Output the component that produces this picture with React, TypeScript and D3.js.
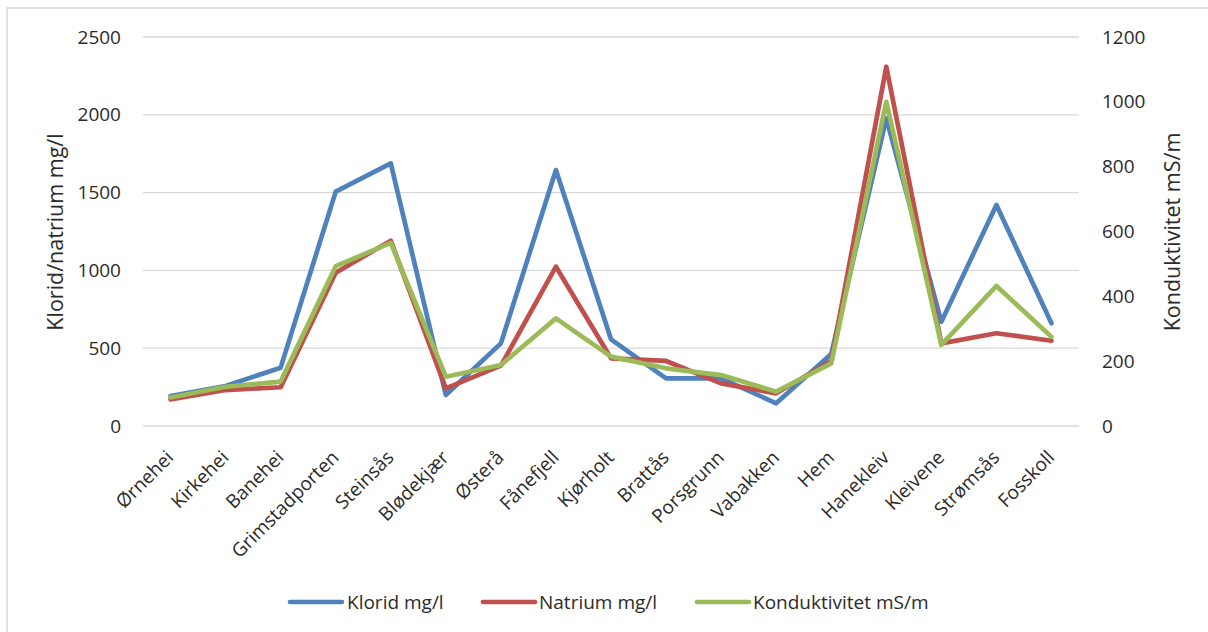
import React from "react";
import * as d3 from "d3";

const categories = ["Ørnehei","Kirkehei","Banehei","Grimstadporten","Steinsås","Blødekjær","Østerå","Fånefjell","Kjørholt","Brattås","Porsgrunn","Vabakken","Hem","Hanekleiv","Kleivene","Strømsås","Fosskoll"];
const klorid = [193, 257, 375, 1506, 1688, 199, 531, 1645, 557, 306, 306, 146, 462, 1977, 670, 1420, 660];
const natrium = [171, 231, 249, 985, 1191, 242, 388, 1024, 435, 418, 274, 210, 418, 2309, 531, 596, 548];
const konduktivitet = [88, 121, 137, 493, 565, 152, 188, 332, 214, 178, 157, 106, 193, 1000, 250, 432, 275];
const leftTicks = [0, 500, 1000, 1500, 2000, 2500];
const rightTicks = [0, 200, 400, 600, 800, 1000, 1200];
const seriesNames = ["Klorid mg/l", "Natrium mg/l", "Konduktivitet mS/m"];
const colors = ["#4F81BD", "#C0504D", "#9BBB59"];

const W = 1208, H = 632;
const X0 = 143, X1 = 1079, Y0 = 426, Y1 = 37;
const FONT = "'Open Sans', sans-serif";
const FS = 19;
const TXT = "#2b2b2b";

export default function App() {
  const x = d3.scaleBand<string>().domain(categories).range([X0, X1]);
  const yL = d3.scaleLinear().domain([0, 2500]).range([Y0, Y1]);
  const yR = d3.scaleLinear().domain([0, 1200]).range([Y0, Y1]);
  const cx = (c: string) => (x(c) as number) + x.bandwidth() / 2;

  const lineL = d3.line<number>().x((_, i) => cx(categories[i])).y(v => yL(v));
  const lineR = d3.line<number>().x((_, i) => cx(categories[i])).y(v => yR(v));

  const paths = [lineL(klorid), lineL(natrium), lineR(konduktivitet)];

  const legendItems = [
    { x: 290, tx: 347 },
    { x: 483, tx: 539 },
    { x: 697, tx: 753 },
  ];

  return (
    <svg width={W} height={H} style={{ position: "absolute", left: 0, top: 0, background: "#fff" }} fontFamily={FONT}>
      <rect x={0} y={0} width={W} height={H} fill="#fff" />
      <rect x={7} y={8} width={W + 10} height={H + 10} fill="#fff" stroke="#d9d9d9" strokeWidth={1.5} />
      {leftTicks.map(t => (
        <line key={"g" + t} x1={X0} x2={X1} y1={yL(t)} y2={yL(t)} stroke="#d9d9d9" strokeWidth={1.3} />
      ))}
      {leftTicks.map(t => (
        <text key={"l" + t} x={121} y={yL(t)} dy="0.35em" textAnchor="end" fontSize={FS} fill={TXT}>{t}</text>
      ))}
      {rightTicks.map(t => (
        <text key={"r" + t} x={1102} y={yR(t)} dy="0.35em" textAnchor="start" fontSize={FS} fill={TXT}>{t}</text>
      ))}
      <text transform={`translate(63,232) rotate(-90)`} textAnchor="middle" fontSize={21.5} fill={TXT}>Klorid/natrium mg/l</text>
      <text transform={`translate(1180,232) rotate(-90)`} textAnchor="middle" fontSize={21.5} fill={TXT}>Konduktivitet mS/m</text>
      {categories.map(c => (
        <text key={c} transform={`translate(${cx(c) - 0.5},${454}) rotate(-45)`} textAnchor="end" dy="0.35em" fontSize={FS} fill={TXT}>{c}</text>
      ))}
      {paths.map((p, i) => (
        <path key={i} d={p || ""} fill="none" stroke={colors[i]} strokeWidth={4.7} strokeLinejoin="round" strokeLinecap="round" />
      ))}
      {legendItems.map((l, i) => (
        <g key={i}>
          <line x1={l.x} x2={l.x + 52} y1={602} y2={602} stroke={colors[i]} strokeWidth={4.7} strokeLinecap="round" />
          <text x={l.tx} y={602} dy="0.35em" fontSize={FS} fill={TXT}>{seriesNames[i]}</text>
        </g>
      ))}
    </svg>
  );
}
